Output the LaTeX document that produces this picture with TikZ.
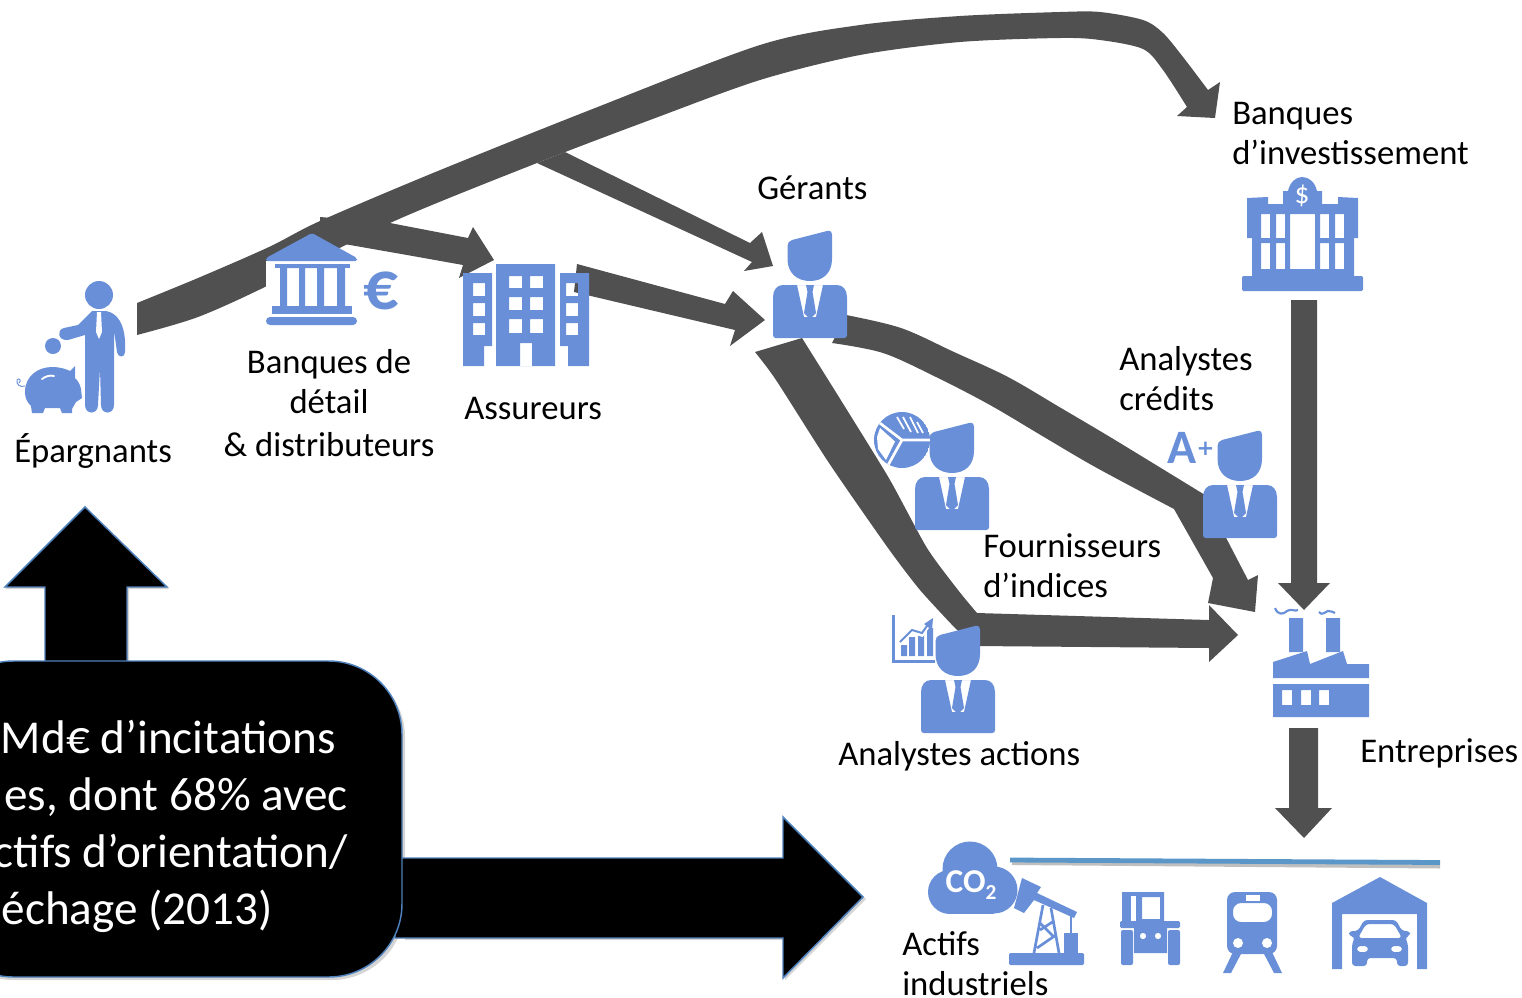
\documentclass[tikz,border=0pt]{standalone}
\usepackage{fontspec}
\setmainfont{Carlito}
\newfontfamily\plusfont{DejaVu Sans}
\usetikzlibrary{arrows.meta}
\definecolor{icon}{HTML}{688FD7}
\definecolor{flow}{HTML}{505050}
\definecolor{edge}{HTML}{4F81BD}
\definecolor{rulecol}{HTML}{5B96C8}
\tikzset{
  lab/.style={font=\fontsize{26}{30}\selectfont,inner sep=0pt,text=black},
  big/.style={font=\fontsize{35.4}{40}\selectfont,inner sep=0pt,text=white,anchor=base east},
  flowfill/.style={fill=flow},
  ic/.style={fill=icon},
  blackshape/.style={fill=black,draw=edge,line width=1.1pt},
  shade/.style={fill=black!30,opacity=.55},
  analyst/.pic={
    \fill[ic] (14.5,-39) .. controls (14.5,-42) and (16,-44) .. (19,-45) -- (54,-54)
      .. controls (57,-55) and (59,-53) .. (59,-50) -- (59,-26)
      .. controls (59,-12) and (50,-4) .. (37,-4) .. controls (24,-4) and (14.5,-12) .. (14.5,-26) -- cycle;
    \fill[ic,even odd rule] (0,12) .. controls (0,5) and (4,0) .. (10,0) -- (64,0)
      .. controls (70,0) and (74,5) .. (74,12) -- (74,50) .. controls (74,52) and (73,53) .. (71,53)
      -- (3,53) .. controls (1,53) and (0,52) .. (0,50) -- cycle
      (24,0) -- (31,32) -- (43,32) -- (50,0) -- cycle;
    \fill[ic] (33,0) -- (41,0) -- (39.5,7) -- (43,28) -- (37,34) -- (31,28) -- (34.5,7) -- cycle;
  },
}
\begin{document}
\begin{tikzpicture}[x=0.75pt,y=-0.75pt]
\useasboundingbox (0,0) rectangle (1522,997);
\clip (0,0) rectangle (1522,997);

% ---------- grey block arrows
\fill[flowfill] plot[smooth,tension=.5] coordinates {(137,303) (198,278) (269,247) (320,221) (433,173) (590,110) (760,45) (860,25) (960,16) (1060,12) (1100,12) (1143,20) (1163,33) (1183,57) (1208,90)}
  -- (1220,82) -- (1215,118) -- (1177,116)
  -- plot[smooth,tension=.5] coordinates {(1187,107) (1163,70) (1143,49) (1100,40) (1060,38) (960,42) (860,55) (760,80) (650,120) (537,163) (390,223) (269,285) (198,317) (137,335)} -- cycle;
\fill[flowfill] (537,163) -- (565,152) -- (750,243) -- (762,232) -- (773,266) -- (744,271) -- (752,262) -- cycle;
\fill[flowfill] (320,217) -- (390,223) -- (468,238) -- (473,227) -- (494,260) -- (459,278) -- (463,265) -- (407,255) -- (350,245) -- (320,240) -- cycle;
\fill[flowfill] (577,264) -- (725,304) -- (733,291) -- (765,320) -- (730,346) -- (735,330) -- (574,292) -- cycle;
\fill[flowfill] plot[smooth,tension=.55] coordinates {(846,315) (901,328) (954,352) (1008,377) (1061,408) (1115,440) (1205,495)}
  -- (1222,530) -- (1248,580) -- (1258,575) -- (1255,612) -- (1208,603) -- (1213,578) -- (1174,509)
  -- plot[smooth,tension=.55] coordinates {(1174,509) (1097,468) (1044,437) (990,405) (936,377) (883,353) (832,343)} -- cycle;
\fill[flowfill] plot[smooth,tension=.4] coordinates {(802,338) (847,410) (890,480) (927,548) (958,590) (977,613)}
  -- (1209,620) -- (1209,605) -- (1238,635) -- (1209,662) -- (1209,648) -- (975,646)
  -- plot[smooth,tension=.4] coordinates {(955,628) (920,590) (888,548) (829,463) (776,380) (755,352)} -- cycle;
\fill[flowfill] (1291,300) -- (1317,300) -- (1317,583) -- (1330,583) -- (1304,610) -- (1278,583) -- (1291,583) -- cycle;
\fill[flowfill] (1289,728) -- (1318,728) -- (1318,808) -- (1332,808) -- (1304,838) -- (1275,808) -- (1289,808) -- cycle;

% ---------- black block shapes
\fill[shade] (5,589) -- (85,509) -- (169,589) -- (129,589) -- (129,665) -- (45,665) -- (45,589) -- cycle;
\draw[blackshape] (5,587) -- (85,507) -- (167,587) -- (127,587) -- (127,665) -- (45,665) -- (45,587) -- cycle;
\fill[shade] (405,860) -- (785,860) -- (785,819) -- (866,899) -- (785,980) -- (785,940) -- (405,940) -- cycle;
\fill[shade,rounded corners=55] (-60,664) rectangle (405,980);
\draw[blackshape] (395,858) -- (783,858) -- (783,817) -- (863,897) -- (783,978) -- (783,938) -- (395,938) -- cycle;
\draw[blackshape,rounded corners=55] (-60,661) rectangle (402,977);
\node[big] (t1) at (336,753) {Md€ d’incitations};
\node[big] (t2) at (348,810) {es, dont 68\% avec};
\node[big] (t3) at (348,867) {ctifs d’orientation/};
\node[big] (t4) at (273,924) {échage (2013)};

% ---------- saver
\fill[ic] (99,295) circle (14);
\fill[ic] (53,346) circle (8);
\fill[ic] (92,311) -- (106,311) .. controls (118,313) and (124,325) .. (125,340) -- (125,352) .. controls (125,358) and (118,358) .. (117,352) -- (114,330) -- (114,405)
  .. controls (114,415) and (101,415) .. (101,405) -- (100,368) -- (98,405) .. controls (98,415) and (85,415) .. (85,405) -- (85,335) -- (68,340) .. controls (58,341) and (56,330) .. (64,328) -- (78,325) -- cycle;
\fill[white] (97,312) -- (101,312) -- (102,332) -- (99,339) -- (96,332) -- cycle;
\fill[ic] (25,392) .. controls (25,376) and (38,367) .. (52,367) .. controls (60,367) and (66,369) .. (70,371) -- (75,366) -- (75,378) .. controls (78,381) and (80,384) .. (81,389) -- (82,398) -- (76,402) -- (72,409) -- (72,413) -- (62,413) -- (60,408) -- (45,408) -- (43,413) -- (32,413) -- (31,406) .. controls (27,402) and (25,398) .. (25,392) -- cycle;
\draw[white,line width=1.4pt,line cap=round] (42,379) .. controls (46,376) and (50,375) .. (54,376);
\draw[icon,line width=.7pt] (25,386) .. controls (20,388) and (16,384) .. (17,380) .. controls (19,377) and (22,381) .. (19,383);
\node[lab,anchor=base west] (sav) at (14,462) {Épargnants};

% ---------- retail bank
\fill[white] (266,261) rectangle (357,325);
\fill[ic,rounded corners=1.5] (312,233) -- (357,258) -- (357,261) -- (266,261) -- (266,258) -- cycle;
\fill[ic] (275,264) rectangle (350,268);
\fill[ic,even odd rule] (280,268) rectangle (345,306) (287,268) rectangle (299,306) (305,268) rectangle (317,306) (324,268) rectangle (337,306);
\fill[ic] (272,306) rectangle (352,314);
\fill[ic,rounded corners=3] (266,317) rectangle (357,325);
\node[inner sep=0pt,text=icon,font=\fontsize{52}{60}\selectfont\bfseries] (eur) at (381,291) {€};
\node[lab,align=center,anchor=base] (ret) at (329,456.5) {Banques de\\détail\\[2pt]\& distributeurs};

% ---------- insurers building
\fill[ic,even odd rule] (463,273) -- (492,273) -- (492,346) -- (484,346) -- (484,366) -- (463,366) -- cycle
  (473,283) rectangle (485,296) (473,303) rectangle (485,316) (473,323) rectangle (485,335);
\fill[ic,even odd rule] (496,264) rectangle (555,366)
  (509,276) rectangle (522,288) (530,276) rectangle (543,288)
  (509,297) rectangle (522,310) (530,297) rectangle (543,310)
  (509,319) rectangle (522,333) (530,319) rectangle (543,333)
  (520,343) rectangle (532,366);
\fill[ic,even odd rule] (560,273) -- (589,273) -- (589,366) -- (568,366) -- (568,346) -- (560,346) -- cycle
  (566,283) rectangle (578,296) (566,303) rectangle (578,316) (566,323) rectangle (578,335);
\node[lab,anchor=base west] (ins) at (464,419) {Assureurs};

% ---------- analysts
\pic at (773,285) {analyst};
\node[lab,anchor=base west] (ger) at (757,199) {Gérants};
\pic at (915,477) {analyst};
\pic at (1203,485) {analyst};
\pic at (921,680) {analyst};

% pie
\begin{scope}
\clip (902,440) circle (28);
\fill[ic] (902,440) circle (28);
\fill[white] (880,428) -- (895,441.5) -- (886,460) -- (878,449) -- (877,437) -- cycle;
\draw[white,line width=2pt] (902,440) -- (868,414) (902,440) -- (882,476) (902,440) -- (935,440);
\draw[white,line width=1.3pt] (897,417) -- (904,429) (903,417) -- (911,432) (910,417) -- (918,433) (917,422) -- (923,433);
\end{scope}
% rating
\node[inner sep=0pt,text=icon,font=\fontsize{36}{40}\selectfont\bfseries,anchor=base west] (rat) at (1167,463.5) {A};
\node[inner sep=0pt,text=icon,font=\fontsize{16}{18}\plusfont\bfseries] (ratp) at (1205.5,449) {+};
% chart
\draw[icon,line width=1.6pt] (893.5,615) -- (893.5,661.5) -- (935,661.5);
\fill[ic] (901,645) rectangle (907,656) (909,637) rectangle (915,656) (918,635) rectangle (924,656) (927,628) rectangle (933,656);
\draw[white,line width=2.6pt] (899,645) -- (912,632) -- (922,635) -- (931,622);
\draw[icon,line width=1.5pt] (900,642) -- (912,630) -- (922,633) -- (929,623);
\fill[ic] (933,618) -- (932,630) -- (924,624) -- cycle;

\node[lab,anchor=base west,align=left] (cre) at (1119,410.5) {Analystes\\crédits};
\node[lab,anchor=base west,align=left] (fou) at (983,597.5) {Fournisseurs\\d’indices};
\node[lab,anchor=base west] (act) at (838,765) {Analystes actions};

% ---------- investment bank
\fill[ic,rounded corners=1] (1242,276) rectangle (1363,291);
\fill[ic,even odd rule] (1252,276) -- (1252,238) -- (1247,238) -- (1247,198) -- (1268,197) -- (1268,204) -- (1283,204) -- (1283,191) -- (1288,191)
  .. controls (1290,182) and (1296,177) .. (1302,177) .. controls (1309,177) and (1315,182) .. (1317,191) -- (1322,191) -- (1322,204) -- (1338,204) -- (1338,197) -- (1358,198) -- (1358,238) -- (1354,238) -- (1354,276) -- cycle
  (1261,214) rectangle (1270,238) (1276,214) rectangle (1285,238)
  (1261,243) rectangle (1270,269) (1276,243) rectangle (1285,269)
  (1290,214) rectangle (1315,269)
  (1320,214) rectangle (1329,238) (1335,214) rectangle (1344,238)
  (1320,243) rectangle (1329,269) (1335,243) rectangle (1344,269);
\node[inner sep=0pt,text=white,font=\fontsize{22}{24}\selectfont] (dol) at (1302,196) {\$};
\node[lab,anchor=base west,align=left] (inv) at (1232,164) {Banques\\d’investissement};

% ---------- factory
\fill[ic] (1289,618) rectangle (1303,652) (1326,618) rectangle (1340,652);
\fill[ic] (1273,664) -- (1273,662) -- (1307,651) -- (1310,664) -- (1343,651) -- (1347,664) -- (1369,664) -- (1369,678) -- (1273,678) -- cycle;
\fill[ic,even odd rule] (1273,684) rectangle (1369,717) (1282,690) rectangle (1292,705) (1301,690) rectangle (1311,705) (1319,690) rectangle (1329,705);
\draw[icon,line width=1.6pt] (1275,608) .. controls (1278,616) and (1284,614) .. (1287,611) .. controls (1291,608) and (1295,612) .. (1298,610);
\draw[icon,line width=1.6pt] (1319,612) .. controls (1322,616) and (1325,612) .. (1328,611) .. controls (1331,610) and (1333,613) .. (1335,613);
\node[lab,anchor=base west] (ent) at (1360,762) {Entreprises};

% ---------- rule line
\draw[black!25,line width=3pt] (1012,863) -- (1440,866.5);
\draw[rulecol,line width=3.6pt] (1010,860) -- (1440,862.5);

% ---------- CO2 cloud
\fill[ic] (970,869) circle (27.5) (950,892) circle (22) (994,890) circle (23.5);
\fill[ic] (950,880) rectangle (994,914);
\node[inner sep=0pt,text=white,font=\fontsize{25}{28}\selectfont\bfseries] (co) at (971,885) {CO\raisebox{-.22em}{\fontsize{16}{18}\selectfont\bfseries 2}};

% ---------- pump jack
\fill[ic,rounded corners=1] (1009,953) rectangle (1084,965);
\fill[ic] (1022,878) -- (1041,887) -- (1037,893) -- (1077,912) -- (1074,918) -- (1034,900) -- (1024,913) -- (1014,908) -- cycle;
\draw[icon,line width=2pt] (1043,905) -- (1034,953) (1051,908) -- (1059,953) (1040,930) -- (1054,921) (1040,923) -- (1054,937) (1037,948) -- (1056,935);
\draw[icon,line width=1.3pt] (1071,915) -- (1071,935);
\fill[ic] (1064,933) rectangle (1078,953);

% ---------- tractor
\fill[ic,even odd rule] (1136,892) rectangle (1164,925) (1142,897) rectangle (1160,919);
\fill[ic] (1122,892) rectangle (1131,925);
\fill[ic] (1122,892) rectangle (1136,896);
\fill[ic,rounded corners=1] (1120,921) rectangle (1180,928);
\fill[ic,even odd rule] (1134,928) rectangle (1167,953) (1143,936) circle (3.2) (1158,936) circle (3.2);
\fill[ic,rounded corners=1.5] (1121,930) rectangle (1133,965) (1168,930) rectangle (1180,965);

% ---------- train
\fill[ic,even odd rule,rounded corners=6] (1227,892) rectangle (1277,954) (1233,903) rectangle (1272,922);
\fill[white] (1246,895) rectangle (1260,901);
\fill[white] (1238,943) circle (5) (1267,943) circle (5);
\fill[ic] (1233,952) -- (1242,952) -- (1231,973) -- (1223,973) -- cycle (1272,952) -- (1263,952) -- (1274,973) -- (1282,973) -- cycle;

% ---------- garage
\fill[ic,even odd rule] (1332,969) -- (1332,903) -- (1380,877) -- (1427,903) -- (1427,969) -- (1417,969) -- (1417,914) -- (1342,914) -- (1342,969) -- cycle;
\fill[ic,even odd rule,rounded corners=2.5] (1352,966) -- (1352,944) -- (1355,937) -- (1349,936) -- (1349,931) -- (1358,931) -- (1364,920) -- (1396,920) -- (1402,931) -- (1410,931) -- (1410,936) -- (1405,937) -- (1408,944) -- (1408,966) -- (1397,966) -- (1397,958) -- (1367,958) -- (1367,966) -- cycle
  (1358,938) -- (1366,924) -- (1394,924) -- (1402,938) -- cycle
  (1357,946) rectangle (1368,952) (1391,946) rectangle (1402,952);

\node[lab,anchor=base west,align=left] (ind) at (902,995) {Actifs\\industriels};
\end{tikzpicture}
\end{document}
